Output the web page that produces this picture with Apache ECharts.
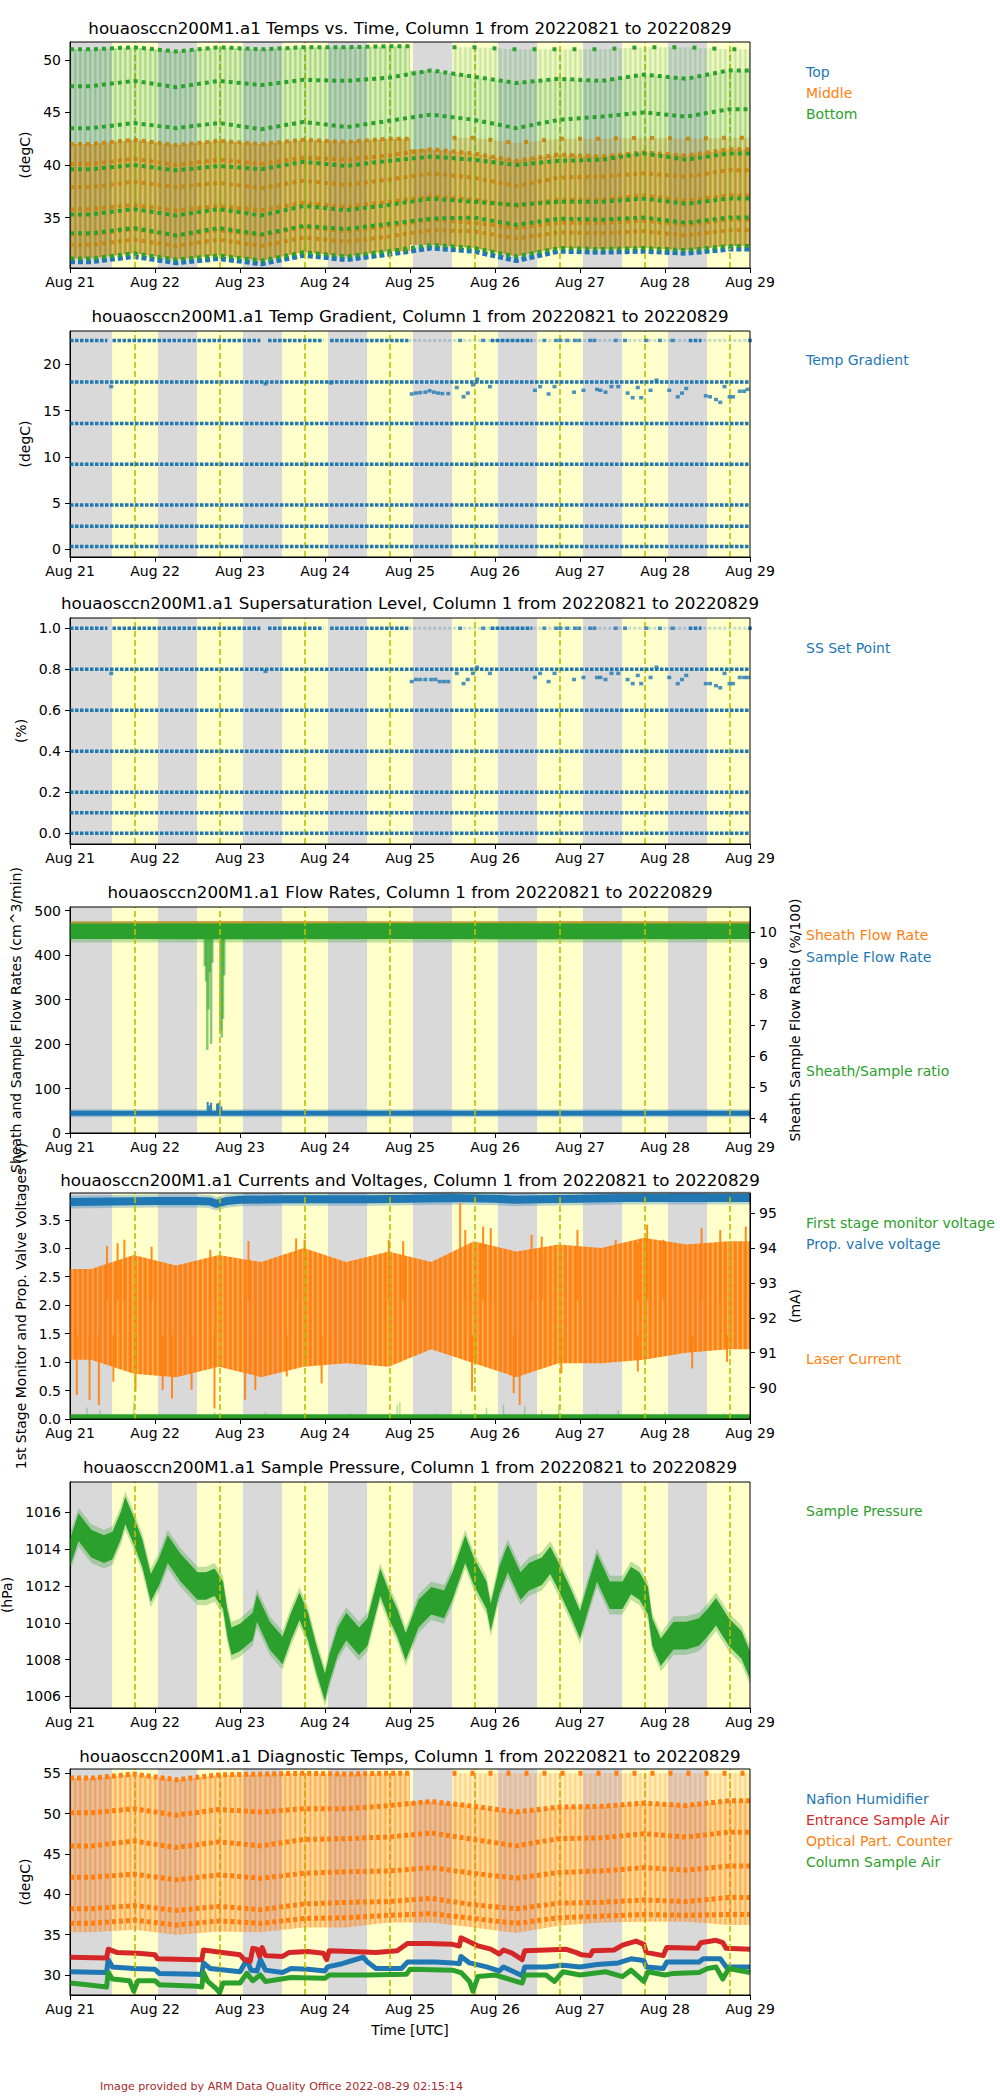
<!DOCTYPE html>
<html>
<head>
<meta charset="utf-8">
<title>houaosccn200M1.a1 quicklooks</title>
<script src="https://cdn.jsdelivr.net/npm/echarts@6.0.0/dist/echarts.min.js"></script>
<style>
html,body{margin:0;padding:0;background:#fff;}
#chart{width:1000px;height:2100px;}
</style>
</head>
<body>
<div id="chart"></div>
<script>
// ---------------- DATA ----------------
const dayTickLabels = ['Aug 21','Aug 22','Aug 23','Aug 24','Aug 25','Aug 26','Aug 27','Aug 28','Aug 29'];
// time in days since 2022-08-21 00:00 UTC
const sunriseDay = [0.495,1.495,2.495,3.495,4.495,5.495,6.495,7.495];
const sunsetDay  = [1.035,2.035,3.035,4.035,5.035,6.035,7.035,8.0];
const solarNoonDay = [0.76,1.76,2.76,3.76,4.76,5.76,6.76,7.76];

const titles = [
  'houaosccn200M1.a1 Temps vs. Time, Column 1 from 20220821 to 20220829',
  'houaosccn200M1.a1 Temp Gradient, Column 1 from 20220821 to 20220829',
  'houaosccn200M1.a1 Supersaturation Level, Column 1 from 20220821 to 20220829',
  'houaosccn200M1.a1 Flow Rates, Column 1 from 20220821 to 20220829',
  'houaosccn200M1.a1 Currents and Voltages, Column 1 from 20220821 to 20220829',
  'houaosccn200M1.a1 Sample Pressure, Column 1 from 20220821 to 20220829',
  'houaosccn200M1.a1 Diagnostic Temps, Column 1 from 20220821 to 20220829'
];

// Panel 1: plateau temperatures per half-day segment (s0 = Aug 21 00-12 UTC ... s15 = Aug 28 12-24 UTC)
const topTemp  = [30.8,31.3,30.7,31.1,30.6,31.4,31.0,31.5,32.1,31.8,30.9,31.8,31.7,31.8,31.6,32.0];
const middle1  = [42.0,42.4,41.9,42.3,42.0,42.4,42.2,42.5,null,42.6,42.1,42.5,42.5,42.6,42.5,42.6];
const middle2  = [40.1,40.6,40.0,40.5,40.1,40.7,40.5,40.9,41.5,41.1,40.4,41.0,40.8,41.2,40.9,41.5];
const middle3  = [37.9,38.4,37.9,38.3,37.8,38.5,38.1,38.6,39.2,38.8,38.0,38.8,38.9,39.2,38.9,39.5];
const middle4  = [35.8,36.2,35.7,36.1,35.7,36.4,36.0,36.5,37.0,36.7,36.1,36.7,36.7,37.1,36.6,37.1];
const middle5  = [33.4,33.9,33.3,33.8,33.3,34.1,33.7,34.2,34.8,34.5,34.0,34.5,34.5,34.7,34.3,34.8];
const middle6  = [32.4,32.9,32.3,32.9,32.3,33.1,32.7,33.2,33.8,33.7,33.0,33.6,33.5,33.7,33.3,33.8];
const bottom1  = [51.0,51.2,50.8,51.2,51.0,51.2,51.2,51.3,null,51.2,51.0,51.0,51.0,51.2,51.2,51.0];
const bottom2  = [47.5,48.0,47.4,48.0,47.6,48.1,48.0,48.3,49.0,48.4,47.8,48.2,48.0,48.6,48.2,49.0];
const bottom3  = [43.5,44.0,43.5,44.0,43.4,44.1,43.6,44.2,44.8,44.3,43.5,44.3,44.6,45.0,44.6,45.3];
const bottom4  = [39.6,40.0,39.5,39.9,39.6,40.3,39.9,40.4,40.8,40.5,40.0,40.4,40.5,41.1,40.5,41.1];
const bottom5  = [35.3,35.8,35.2,35.8,35.2,36.1,35.7,36.2,36.8,36.5,36.2,36.5,36.5,36.8,36.3,36.8];
const bottom6  = [33.5,34.0,33.3,34.0,33.4,34.2,33.9,34.4,34.9,35.0,34.3,34.9,34.8,35.0,34.5,35.0];
const bottom7  = [31.1,31.6,31.0,31.4,30.9,31.7,31.3,31.8,32.4,32.1,31.3,32.1,32.0,32.1,31.9,32.3];

// Panels 2 & 3: set-point levels
const gradLevels = [22.6, 18.1, 13.6, 9.2, 4.8, 2.5, 0.3];
const ssLevels   = [1.0, 0.8, 0.6, 0.4, 0.2, 0.1, 0.0];
const topLevelDense  = [[0,0.44],[0.5,2.24],[2.33,2.98],[3.06,3.98],[4.95,5.44],[7.28,7.43]];
const topLevelFaint  = [[3.98,8.0]];
const topLevelSparse = [4.59,4.86,5.58,5.72,5.77,5.85,5.94,5.99,6.12,6.17,6.42,6.53,6.78,6.94,7.09,8.0];
const gradExtra = [[0.485,17.6],[2.3,17.9],[3.07,18.0],[4.02,16.8],[4.07,16.9],[4.12,16.95],[4.18,17.0],[4.23,17.15],[4.28,17.0],[4.33,16.9],[4.38,16.85],[4.45,16.85],
  [4.55,17.5],[4.63,16.5],[4.68,16.9],[4.74,17.8],[4.79,18.4],[4.94,17.6],[5.47,17.2],[5.53,17.6],[5.63,16.8],[5.7,17.6],[5.93,17.0],[6.04,17.2],
  [6.2,17.3],[6.24,17.2],[6.3,17.0],[6.37,17.6],[6.45,17.6],[6.56,16.9],[6.62,16.4],[6.68,17.5],[6.72,16.4],[6.83,17.2],[6.9,18.3],
  [7.05,17.2],[7.15,16.5],[7.2,16.9],[7.25,17.4],[7.48,16.6],[7.53,16.5],[7.6,16.2],[7.65,15.9],[7.7,17.6],[7.76,16.5],[7.8,16.5],[7.88,17.1],[7.93,17.1],[7.97,17.3]];
const ssExtra = [[0.485,0.78],[2.3,0.79],[4.02,0.74],[4.07,0.75],[4.12,0.75],[4.18,0.75],[4.25,0.75],[4.3,0.75],[4.35,0.74],[4.4,0.74],[4.45,0.74],
  [4.55,0.78],[4.63,0.73],[4.68,0.75],[4.74,0.78],[4.79,0.81],[4.94,0.78],[5.47,0.76],[5.53,0.78],[5.63,0.74],[5.7,0.78],[5.93,0.75],[6.04,0.76],
  [6.2,0.76],[6.24,0.76],[6.3,0.75],[6.37,0.78],[6.45,0.78],[6.56,0.75],[6.62,0.73],[6.68,0.77],[6.72,0.73],[6.83,0.76],[6.9,0.81],
  [7.05,0.76],[7.15,0.73],[7.2,0.75],[7.25,0.77],[7.48,0.73],[7.53,0.73],[7.6,0.72],[7.65,0.71],[7.7,0.78],[7.76,0.73],[7.8,0.73],[7.88,0.76],[7.93,0.76],[7.97,0.76]];

// Panel 4: flow rates  [day, low, high]
const sheathFlowBand = [[0,455,476],[2,455,477],[4,455,476],[6,455,477],[8,455,476]];   // cm^3/min
const flowRatioBand  = [[0,9.77,10.27],[2,9.76,10.27],[4,9.77,10.28],[6,9.76,10.27],[8,9.77,10.27]]; // %/100
const flowRatioFuzz  = [[0,9.66,10.34],[8,9.66,10.34]];
const flowRatioDips  = [[1.585,9.9,8.9],[1.60,9.9,8.4],[1.615,9.9,6.2],[1.63,9.9,7.5],[1.645,9.9,8.7],[1.66,9.9,6.4],[1.675,9.9,9.0],[1.77,9.9,6.8],[1.785,9.9,6.6],[1.80,9.9,7.2],[1.815,9.9,8.6]];
const sampleFlow     = [[0,44.5],[8,44.5]];
const sampleFlowSpikes = [[1.62,45,70],[1.64,45,62],[1.66,45,68],[1.73,45,66],[1.75,45,68],[1.78,45,60]];

// Panel 5: currents and voltages
const valveVoltage = [[0,3.81],[0.5,3.82],[1.0,3.83],[1.5,3.83],[1.65,3.82],[1.72,3.78],[1.85,3.83],[2.0,3.85],[2.5,3.86],[3.0,3.86],[3.5,3.86],[4.0,3.87],[4.5,3.88],[5.0,3.87],[5.25,3.85],[5.5,3.86],[6.0,3.87],[6.5,3.88],[7.0,3.88],[7.5,3.88],[8.0,3.88]];
const monitorVoltage = [[0,0.04],[8,0.04]];
const monitorSpikes = [[0.2,0.04,0.2],[0.35,0.04,0.15],[0.75,0.04,0.3],[1.7,0.04,0.12],[2.3,0.04,0.12],[3.3,0.04,0.1],[3.85,0.04,0.25],[3.88,0.04,0.3],[4.3,0.04,0.1],[4.6,0.04,0.15],[4.9,0.04,0.2],[5.1,0.04,0.25],[5.35,0.04,0.22],[5.55,0.04,0.15],[5.75,0.04,0.25],[6.2,0.04,0.1],[6.45,0.04,0.15],[7.0,0.04,0.12],[7.7,0.04,0.1]];
const laserLow  = [90.8,90.4,90.3,90.6,90.3,90.6,90.7,90.6,91.1,90.7,90.3,90.7,90.7,90.8,91.0,91.1];
const laserHigh = [93.4,93.8,93.5,93.8,93.6,94.0,93.6,93.9,93.6,94.2,93.9,94.1,94.0,94.3,94.1,94.2];
const laserPeaks = [[0.435,92.5,94.06],[0.56,92.5,94.14],[0.64,92.5,94.24],[0.96,92.5,94.04],[1.65,92.5,93.95],[2.1,92.5,94.2],[2.66,92.5,94.28],[2.76,92.5,94.24],[3.75,92.5,94.24],[3.92,92.5,94.2],[4.59,92.5,95.29],[4.65,92.5,94.52],[4.86,92.5,94.62],[4.95,92.5,94.57],[5.43,92.5,94.38],[5.55,92.5,94.33],[5.97,92.5,94.52],[6.42,92.5,94.24],[6.68,92.5,94.14],[6.79,92.5,94.67],[6.98,92.5,94.24],[7.43,92.5,94.57],[7.65,92.5,94.52],[7.95,92.5,94.62]];
const laserDips  = [[0.08,91.5,89.79],[0.23,91.5,89.65],[0.34,91.5,89.5],[0.51,91.5,90.17],[0.77,91.5,89.89],[1.09,91.5,89.93],[1.2,91.5,89.69],[1.43,91.5,89.93],[1.7,91.5,89.4],[2.06,91.5,89.65],[2.18,91.5,89.93],[2.55,91.5,90.32],[2.96,91.5,90.12],[4.73,91.5,89.89],[5.22,91.5,89.84],[5.29,91.5,89.5],[5.78,91.5,90.41],[6.68,91.5,90.46],[7.32,91.5,90.55],[7.73,91.5,90.74]];

// Panel 6: sample pressure (hPa), band centre and half-spread
const samplePressure = [[0,1013.8],[0.1,1015.2],[0.25,1014.3],[0.4,1014.0],[0.5,1014.2],[0.6,1015.3],[0.65,1016.1],[0.75,1015.0],[0.85,1013.8],[0.95,1011.9],[1.05,1012.8],[1.15,1014.0],[1.3,1013.0],[1.5,1012.0],[1.6,1012.0],[1.7,1012.2],[1.8,1011.5],[1.85,1010.0],[1.9,1009.0],[2.0,1009.2],[2.15,1009.8],[2.2,1010.8],[2.35,1009.3],[2.5,1008.5],[2.6,1009.8],[2.7,1010.9],[2.8,1009.8],[2.9,1008.0],[3.0,1006.5],[3.05,1007.5],[3.15,1009.0],[3.25,1009.8],[3.4,1009.0],[3.5,1009.5],[3.65,1012.2],[3.75,1011.0],[3.85,1010.0],[3.95,1008.7],[4.1,1010.5],[4.25,1011.2],[4.4,1011.0],[4.5,1012.0],[4.65,1014.0],[4.75,1012.8],[4.9,1011.5],[4.95,1010.3],[5.05,1012.3],[5.15,1013.5],[5.3,1012.0],[5.4,1012.5],[5.55,1012.8],[5.65,1013.4],[5.75,1012.5],[5.9,1011.0],[6.0,1009.9],[6.1,1011.5],[6.2,1013.0],[6.35,1011.5],[6.5,1011.5],[6.6,1012.3],[6.7,1012.0],[6.8,1011.2],[6.85,1009.5],[6.95,1008.4],[7.1,1009.3],[7.25,1009.3],[7.4,1009.5],[7.5,1010.0],[7.6,1010.6],[7.75,1009.5],[7.9,1008.8],[8.0,1007.7]];
const pressureSpread = 0.75;
const pressureFuzz = 1.05;

// Panel 7: diagnostic temps
const opc1 = [54.4,54.9,54.2,54.8,54.9,55.0,54.9,55.0,null,55.0,55.0,55.0,55.0,55.0,55.0,55.0];
const opc2 = [50.1,50.6,49.8,50.5,50.2,50.6,50.6,51.0,51.5,50.9,50.2,50.8,50.9,51.3,51.0,51.6];
const opc3 = [46.0,46.6,45.8,46.5,46.0,46.8,46.9,47.1,47.6,46.8,46.0,46.9,47.0,47.5,47.1,47.7];
const opc4 = [42.1,42.5,41.8,42.4,42.0,42.6,42.8,42.9,43.3,42.6,42.0,42.7,42.9,43.3,43.0,43.5];
const opc5 = [38.2,38.6,38.0,38.5,38.1,38.8,39.0,39.1,39.5,38.7,38.2,38.9,39.0,39.3,39.1,39.6];
const opc6 = [36.4,36.8,36.2,36.7,36.4,37.0,37.1,37.4,37.6,37.0,36.4,37.1,37.3,37.5,37.4,37.5];
const opcMin = [35.3,35.6,35.0,35.4,35.3,35.9,35.9,36.5,36.5,35.9,35.2,36.1,36.5,36.6,36.6,36.2];
const entranceAir = [[0,32.2],[0.43,32.1],[0.45,33.2],[0.55,32.8],[0.8,32.7],[1.0,32.5],[1.03,32.0],[1.5,31.9],[1.55,31.9],[1.57,33.1],[1.7,32.9],[2.0,32.5],[2.05,31.9],[2.12,31.7],[2.15,33.3],[2.2,33.2],[2.23,32.3],[2.26,33.4],[2.3,32.4],[2.5,32.3],[2.58,32.8],[2.8,32.9],[2.98,32.7],[3.02,31.9],[3.05,33.0],[3.3,32.9],[3.6,32.8],[3.85,33.0],[3.97,33.9],[4.2,33.9],[4.5,33.8],[4.58,33.6],[4.6,34.6],[4.68,34.2],[4.8,33.6],[4.95,33.2],[5.05,32.6],[5.1,33.1],[5.2,32.7],[5.32,31.9],[5.35,33.0],[5.6,33.1],[5.83,33.2],[5.95,32.8],[6.02,32.5],[6.12,32.4],[6.15,33.0],[6.4,33.1],[6.5,33.7],[6.66,34.2],[6.75,33.8],[6.78,32.8],[6.98,32.4],[7.02,33.4],[7.38,33.3],[7.42,34.0],[7.6,34.3],[7.68,34.0],[7.72,33.3],[8.0,33.2]];
const nafionHumidifier = [[0,30.4],[0.43,30.3],[0.45,31.9],[0.5,31.0],[0.75,30.8],[1.0,30.7],[1.05,30.2],[1.5,30.1],[1.55,30.0],[1.57,31.5],[1.65,30.8],[2.0,30.4],[2.08,31.9],[2.13,30.6],[2.2,30.5],[2.24,31.9],[2.3,30.6],[2.5,30.3],[2.6,30.8],[2.8,30.7],[3.0,30.5],[3.03,31.0],[3.2,31.4],[3.45,32.2],[3.5,31.6],[3.6,30.8],[3.9,30.8],[3.97,31.6],[4.3,31.6],[4.5,31.5],[4.58,31.4],[4.6,32.3],[4.7,31.5],[4.9,31.0],[5.05,30.5],[5.1,31.0],[5.32,29.9],[5.35,31.0],[5.6,31.0],[5.8,31.2],[6.0,31.0],[6.2,31.3],[6.45,31.5],[6.6,32.0],[6.75,31.8],[6.78,31.0],[6.98,30.8],[7.02,31.6],[7.4,31.6],[7.45,32.0],[7.65,32.0],[7.72,31.0],[8.0,31.0]];
const columnAir = [[0,29.0],[0.2,28.8],[0.43,28.5],[0.45,30.3],[0.5,29.5],[0.7,29.3],[0.75,28.0],[0.8,29.3],[1.0,29.3],[1.05,28.8],[1.5,28.6],[1.55,28.5],[1.57,30.3],[1.62,29.2],[1.72,28.3],[1.76,27.8],[1.8,29.0],[2.0,29.0],[2.08,30.2],[2.15,29.3],[2.24,30.0],[2.3,29.2],[2.6,29.7],[3.0,29.6],[3.05,30.0],[3.5,30.0],[3.96,30.1],[4.0,30.7],[4.5,30.6],[4.6,30.3],[4.7,29.2],[4.74,28.0],[4.8,29.8],[5.0,30.0],[5.32,29.0],[5.35,30.0],[5.6,30.0],[5.7,29.2],[5.8,30.4],[6.0,30.0],[6.3,30.4],[6.5,29.8],[6.6,30.6],[6.75,29.2],[6.8,30.4],[7.0,30.0],[7.1,30.2],[7.4,30.3],[7.5,30.8],[7.6,31.0],[7.68,29.5],[7.75,30.8],[8.0,30.3]];

// ---------------- STYLE / LAYOUT ----------------
const FONT = 'DejaVu Sans';
const C_BLUE = '#1f77b4', C_ORANGE = '#ff7f0e', C_GREEN = '#2ca02c', C_RED = '#d62728';
const RGB_ORANGE = '255,127,14', RGB_GREEN = '44,160,44';
const C_NIGHT = '#d9d9d9', C_DAY = '#ffffcc', C_NOON = '#bfbf00';
const GRID_LEFT = 70, GRID_WIDTH = 680, GRID_HEIGHT = 226;
const gridTops = [42, 331, 618, 907, 1193, 1482, 1769];
const titleY = [28, 316, 603, 892, 1180, 1467, 1756];
const LEGEND_X = 806;

// vertical-stroke texture imitating the densely overplotted cycling traces
function stripes(rgb, alphas) {
  const c = document.createElement('canvas');
  c.width = alphas.length; c.height = 4;
  const g = c.getContext('2d');
  alphas.forEach((a, i) => { g.fillStyle = 'rgba(' + rgb + ',' + a + ')'; g.fillRect(i, 0, 1, 4); });
  return {image: c, repeat: 'repeat', imageWidth: c.width, imageHeight: c.height};
}

// ---------------- HELPERS ----------------
function segPairs(vals, a, b) {
  const out = [[a * 0.5, vals[a]]];
  for (let k = a; k <= b; k++) out.push([k * 0.5 + 0.25, vals[k]]);
  out.push([(b + 1) * 0.5, vals[b]]);
  return out;
}
function segBand(lo, hi, a, b) {
  const l = segPairs(lo, a, b), h = segPairs(hi, a, b);
  return l.map((p, i) => [p[0], p[1], h[i][1]]);
}
function band(ax, pts, fill, opacity, z) {
  return {
    type: 'custom', xAxisIndex: ax[0], yAxisIndex: ax[1], z: z, silent: true, clip: true,
    data: [[pts[0][0], pts[0][1]]], encode: {x: 0, y: 1},
    renderItem: function (params, api) {
      const poly = [];
      for (let i = 0; i < pts.length; i++) poly.push(api.coord([pts[i][0], pts[i][2]]));
      for (let i = pts.length - 1; i >= 0; i--) poly.push(api.coord([pts[i][0], pts[i][1]]));
      return {type: 'polygon', shape: {points: poly}, style: {fill: fill, opacity: opacity}};
    }
  };
}
function strokes(ax, pts, color, width, opacity, z) {
  return {
    type: 'custom', xAxisIndex: ax[0], yAxisIndex: ax[1], z: z, silent: true, clip: true,
    data: pts, encode: {x: 0, y: [1, 2]},
    renderItem: function (params, api) {
      const a = api.coord([api.value(0), api.value(1)]);
      const b = api.coord([api.value(0), api.value(2)]);
      return {type: 'line', shape: {x1: a[0], y1: a[1], x2: b[0], y2: b[1]},
              style: {stroke: color, lineWidth: width, opacity: opacity}};
    }
  };
}
function line(ax, pairs, color, width, dash, z, opacity) {
  return {
    type: 'line', xAxisIndex: ax[0], yAxisIndex: ax[1], data: pairs, z: z, silent: true,
    showSymbol: false, symbol: 'none', clip: true, connectNulls: false,
    lineStyle: {color: color, width: width, type: dash, opacity: opacity == null ? 1 : opacity, cap: 'butt', join: 'round'}
  };
}
function dots(ax, pairs, color, size, z) {
  return {type: 'scatter', xAxisIndex: ax[0], yAxisIndex: ax[1], data: pairs, z: z, silent: true,
    symbol: 'rect', symbolSize: size, itemStyle: {color: color}};
}

// ---------------- AXES ----------------
const grids = gridTops.map(t => ({left: GRID_LEFT, top: t, width: GRID_WIDTH, height: GRID_HEIGHT,
  show: true, backgroundColor: C_NIGHT, borderWidth: 0, containLabel: false, outerBoundsMode: 'none'}));

const axisText = {color: '#000', fontSize: 14, fontFamily: FONT};
const xAxes = gridTops.map((t, i) => ({
  type: 'value', gridIndex: i, min: 0, max: 8, interval: 1,
  axisLine: {show: true, onZero: false, lineStyle: {color: '#000', width: 1}},
  axisTick: {show: true, length: 5, lineStyle: {color: '#000'}},
  axisLabel: Object.assign({margin: 7, formatter: v => dayTickLabels[Math.round(v)]}, axisText),
  splitLine: {show: false},
  name: i === 6 ? 'Time [UTC]' : '', nameLocation: 'middle', nameGap: 28, nameTextStyle: axisText
}));

function yAxisDef(grid, min, max, ticks, name, gap, opt) {
  opt = opt || {};
  return {
    type: 'value', gridIndex: grid, min: min, max: max, position: opt.right ? 'right' : 'left', offset: 0,
    axisLine: {show: true, onZero: false, lineStyle: {color: '#000', width: 1}},
    axisTick: {show: true, length: 5, customValues: ticks, lineStyle: {color: '#000'}},
    axisLabel: Object.assign({margin: 9, customValues: ticks, formatter: opt.fmt || (v => String(v))}, axisText),
    splitLine: {show: false},
    name: name, nameLocation: 'middle', nameGap: gap, nameRotate: 90, nameTextStyle: axisText
  };
}
const fmt1 = v => v.toFixed(1);
const yAxes = [
  yAxisDef(0, 30.2, 51.7, [35,40,45,50], '(degC)', 33),
  yAxisDef(1, -0.84, 23.62, [0,5,10,15,20], '(degC)', 33),
  yAxisDef(2, -0.052, 1.05, [0,0.2,0.4,0.6,0.8,1.0], '(%)', 37, {fmt: fmt1}),
  yAxisDef(3, 0, 508.4, [0,100,200,300,400,500], 'Sheath and Sample Flow Rates (cm^3/min)', 42),
  yAxisDef(3, 3.53, 10.8, [4,5,6,7,8,9,10], 'Sheath Sample Flow Ratio (%/100)', 26, {right: true}),
  yAxisDef(4, 0, 3.97, [0,0.5,1.0,1.5,2.0,2.5,3.0,3.5], '1st Stage Monitor and Prop. Valve Voltages (V)', 38, {fmt: fmt1}),
  yAxisDef(4, 89.1, 95.58, [90,91,92,93,94,95], '(mA)', 28, {right: true}),
  yAxisDef(5, 1005.37, 1017.65, [1006,1008,1010,1012,1014,1016], '(hPa)', 50),
  yAxisDef(6, 27.52, 55.53, [30,35,40,45,50,55], '(degC)', 33)
];
const AX = [[0,0],[1,1],[2,2],[3,3],[4,5],[5,7],[6,8]];
const AX4R = [3,4], AX5R = [4,6];

// ---------------- SERIES ----------------
const series = [];
// day/night shading + solar noon
AX.forEach(ax => {
  series.push({
    type: 'line', xAxisIndex: ax[0], yAxisIndex: ax[1], data: [], z: 1, silent: true,
    markArea: {silent: true, itemStyle: {color: C_DAY, opacity: 1},
      data: sunriseDay.map((s, k) => [{xAxis: s}, {xAxis: sunsetDay[k]}])},
    markLine: {silent: true, symbol: 'none', label: {show: false},
      lineStyle: {color: C_NOON, type: [6, 3], width: 1.6, opacity: 1},
      data: solarNoonDay.map(n => ({xAxis: n}))}
  });
});

// Panel 1
const P1 = AX[0];
const texOrange1 = stripes(RGB_ORANGE, [0.78, 0.62, 0.45, 0.55, 0.7]);
const texOrange1b = stripes(RGB_ORANGE, [0.4, 0.3, 0.18, 0.25, 0.35]);
const texGreen1 = stripes(RGB_GREEN, [0.42, 0.28, 0.14, 0.2, 0.34]);
const texGreen1b = stripes(RGB_GREEN, [0.26, 0.16, 0.06, 0.1, 0.2]);
series.push(line(P1, segPairs(topTemp, 0, 15), C_BLUE, 5, [5, 3], 3));
series.push(band(P1, segBand(bottom7, middle1, 0, 7), texOrange1, 1, 4));
series.push(band(P1, segBand(bottom7, middle2, 8, 15), texOrange1, 1, 4));
series.push(band(P1, segBand(middle2, middle1, 9, 15), texOrange1b, 1, 4));
series.push(line(P1, segPairs(middle1, 0, 7), C_ORANGE, 4, [4, 4], 5));
series.push(line(P1, segPairs(middle1, 9, 15), C_ORANGE, 4, [4, 14], 5));
[middle2, middle3, middle4, middle5, middle6].forEach(m => series.push(line(P1, segPairs(m, 0, 15), C_ORANGE, 4, [4, 4], 5)));
series.push(band(P1, segBand(bottom7, bottom1, 0, 7), texGreen1, 1, 6));
series.push(band(P1, segBand(bottom7, bottom2, 8, 15), texGreen1, 1, 6));
series.push(band(P1, segBand(bottom2, bottom1, 9, 15), texGreen1b, 1, 6));
series.push(line(P1, segPairs(bottom1, 0, 7), C_GREEN, 4, [4, 4], 7));
series.push(line(P1, segPairs(bottom1, 9, 15), C_GREEN, 4, [4, 16], 7));
[bottom2, bottom3, bottom4, bottom5, bottom6, bottom7].forEach(b => series.push(line(P1, segPairs(b, 0, 15), C_GREEN, 4, [4, 4], 7)));

// Panels 2 & 3
function setPointPanel(ax, levels, extra) {
  for (let i = 1; i < levels.length; i++)
    series.push(line(ax, [[0, levels[i]], [8, levels[i]]], C_BLUE, 3.5, [3.5, 1.5], 5));
  topLevelFaint.forEach(s => series.push(line(ax, [[s[0], levels[0]], [s[1], levels[0]]], C_BLUE, 3, [3, 2], 4, 0.25)));
  topLevelDense.forEach(s => series.push(line(ax, [[s[0], levels[0]], [s[1], levels[0]]], C_BLUE, 3.5, [3.5, 1.5], 5)));
  series.push(dots(ax, topLevelSparse.map(x => [x, levels[0]]), C_BLUE, [4, 3.5], 6));
  series.push(dots(ax, extra, C_BLUE, [4, 3.5], 6));
}
setPointPanel(AX[1], gradLevels, gradExtra);
setPointPanel(AX[2], ssLevels, ssExtra);

// Panel 4
series.push(band(AX[3], sheathFlowBand, C_ORANGE, 0.75, 3));
series.push(band(AX4R, flowRatioFuzz, C_GREEN, 0.3, 4));
series.push(band(AX4R, flowRatioBand, C_GREEN, 1, 4));
series.push(strokes(AX4R, flowRatioDips, C_GREEN, 2.5, 0.55, 4));
series.push(line(AX[3], sampleFlow, C_BLUE, 8, 'solid', 3, 0.3));
series.push(line(AX[3], sampleFlow, C_BLUE, 5, 'solid', 3));
series.push(strokes(AX[3], sampleFlowSpikes, C_BLUE, 2, 0.9, 3));

// Panel 5
const texOrange5 = stripes(RGB_ORANGE, [1, 0.9, 0.62, 0.78, 0.95]);
series.push(line(AX[4], valveVoltage, C_BLUE, 13, 'solid', 3, 0.3));
series.push(line(AX[4], valveVoltage, C_BLUE, 8, 'solid', 3));
series.push(line(AX[4], monitorVoltage, C_GREEN, 5, 'solid', 3));
series.push(strokes(AX[4], monitorSpikes, C_GREEN, 1.5, 0.35, 3));
series.push(band(AX5R, segBand(laserLow, laserHigh, 0, 15), texOrange5, 1, 4));
series.push(strokes(AX5R, laserPeaks, C_ORANGE, 2, 0.9, 4));
series.push(strokes(AX5R, laserDips, C_ORANGE, 2, 0.9, 4));

// Panel 6
series.push(band(AX[5], samplePressure.map(p => [p[0], p[1] - pressureFuzz, p[1] + pressureFuzz]), C_GREEN, 0.3, 3));
series.push(band(AX[5], samplePressure.map(p => [p[0], p[1] - pressureSpread, p[1] + pressureSpread]), C_GREEN, 1, 4));

// Panel 7
const P7 = AX[6];
const texOrange7 = stripes(RGB_ORANGE, [0.62, 0.42, 0.25, 0.34, 0.52]);
const texOrange7b = stripes(RGB_ORANGE, [0.34, 0.22, 0.1, 0.16, 0.28]);
series.push(line(P7, nafionHumidifier, C_BLUE, 5, 'solid', 3));
series.push(line(P7, entranceAir, C_RED, 5, 'solid', 4));
series.push(band(P7, segBand(opcMin, opc1, 0, 7), texOrange7, 1, 5));
series.push(band(P7, segBand(opcMin, opc2, 8, 15), texOrange7, 1, 5));
series.push(band(P7, segBand(opc2, opc1, 9, 15), texOrange7b, 1, 5));
series.push(line(P7, segPairs(opc1, 0, 7), C_ORANGE, 5, [4, 3], 6));
series.push(line(P7, segPairs(opc1, 9, 15), C_ORANGE, 5, [4, 14], 6));
[opc2, opc3, opc4, opc5, opc6].forEach(o => series.push(line(P7, segPairs(o, 0, 15), C_ORANGE, 5, [4, 3], 6)));
series.push(line(P7, columnAir, C_GREEN, 5, 'solid', 7));

// ---------------- TEXT ----------------
const graphics = [];
gridTops.forEach(t => graphics.push({type: 'rect', z: 100, silent: true,
  shape: {x: GRID_LEFT, y: t, width: GRID_WIDTH, height: GRID_HEIGHT},
  style: {fill: 'none', stroke: '#000', lineWidth: 1}}));
titles.forEach((txt, i) => graphics.push({type: 'text', z: 100, silent: true, x: GRID_LEFT + GRID_WIDTH / 2, y: titleY[i],
  style: {text: txt, fill: '#000', fontSize: 16.7, fontFamily: FONT, align: 'center', verticalAlign: 'middle', textAlign: 'center', textVerticalAlign: 'middle'}}));
const legendItems = [
  ['Top', C_BLUE, 72], ['Middle', C_ORANGE, 93], ['Bottom', C_GREEN, 114],
  ['Temp Gradient', C_BLUE, 360],
  ['SS Set Point', C_BLUE, 648],
  ['Sheath Flow Rate', C_ORANGE, 935], ['Sample Flow Rate', C_BLUE, 957], ['Sheath/Sample ratio', C_GREEN, 1071],
  ['First stage monitor voltage', C_GREEN, 1223], ['Prop. valve voltage', C_BLUE, 1244], ['Laser Current', C_ORANGE, 1359],
  ['Sample Pressure', C_GREEN, 1511],
  ['Nafion Humidifier', C_BLUE, 1799], ['Entrance Sample Air', C_RED, 1820], ['Optical Part. Counter', C_ORANGE, 1841], ['Column Sample Air', C_GREEN, 1862]
];
legendItems.forEach(it => graphics.push({type: 'text', z: 100, silent: true, x: LEGEND_X, y: it[2],
  style: {text: it[0], fill: it[1], fontSize: 14, fontFamily: FONT, align: 'left', verticalAlign: 'middle', textAlign: 'left', textVerticalAlign: 'middle'}}));
graphics.push({type: 'text', z: 100, silent: true, x: 100, y: 2086,
  style: {text: 'Image provided by ARM Data Quality Office 2022-08-29 02:15:14', fill: '#a52a2a', fontSize: 11.1, fontFamily: FONT, align: 'left', verticalAlign: 'middle', textAlign: 'left', textVerticalAlign: 'middle'}});

const chart = echarts.init(document.getElementById('chart'), null, {renderer: 'svg', width: 1000, height: 2100});
chart.setOption({
  backgroundColor: '#fff',
  animation: false,
  textStyle: {fontFamily: FONT},
  grid: grids, xAxis: xAxes, yAxis: yAxes, series: series, graphic: graphics
});
</script>
</body>
</html>
